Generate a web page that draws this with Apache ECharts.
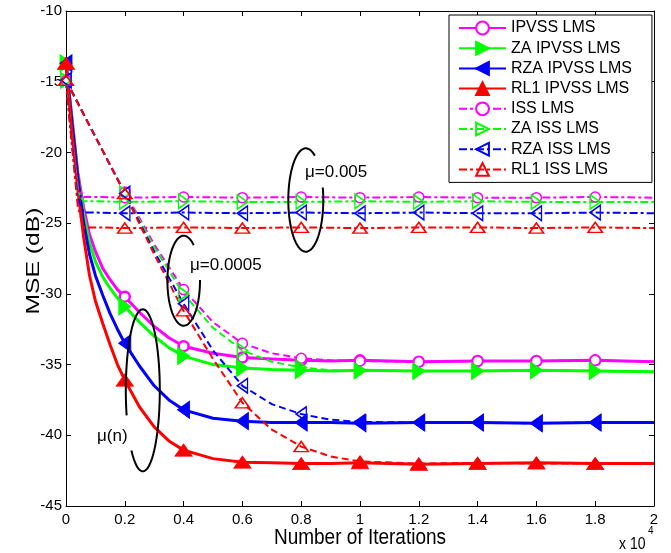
<!DOCTYPE html>
<html><head><meta charset="utf-8">
<script src="https://cdn.jsdelivr.net/npm/echarts@6/dist/echarts.min.js"></script>
<style>html,body{margin:0;padding:0;background:#fff}#c{width:671px;height:553px}</style>
</head><body><div id="c"></div>
<script>
// ---- data (iterations in units of 10^4, MSE in dB) ----
const names = ['IPVSS LMS','ZA IPVSS LMS','RZA IPVSS LMS','RL1 IPVSS LMS','ISS LMS','ZA ISS LMS','RZA ISS LMS','RL1 ISS LMS'];
const xTickLabels = ['0','0.2','0.4','0.6','0.8','1','1.2','1.4','1.6','1.8','2'];

// mu(n) curves (IPVSS)
const xFine = [0,0.02,0.04,0.06,0.08,0.1,0.125,0.15,0.175,0.2,0.25,0.3,0.35,0.4,0.5,0.6,0.7,0.8,0.9,1.0,1.2,1.4,1.6,1.8,2.0];
const ipvss    = [-13.7,-17.5,-21.4,-23.9,-25.8,-27.0,-28.2,-29.0,-29.7,-30.2,-31.3,-32.3,-33.1,-33.7,-34.2,-34.5,-34.6,-34.7,-34.75,-34.7,-34.8,-34.75,-34.75,-34.7,-34.8];
const zaIpvss  = [-13.7,-17.6,-21.6,-24.4,-26.4,-27.7,-28.8,-29.6,-30.3,-30.9,-32.0,-33.0,-33.8,-34.4,-35.0,-35.25,-35.35,-35.4,-35.45,-35.4,-35.45,-35.45,-35.4,-35.45,-35.5];
const rzaIpvss = [-13.7,-17.8,-21.7,-25.0,-27.2,-28.7,-30.1,-31.4,-32.5,-33.5,-35.1,-36.5,-37.5,-38.2,-38.8,-39.0,-39.1,-39.1,-39.1,-39.15,-39.1,-39.1,-39.15,-39.1,-39.1];
const rl1Ipvss = [-13.7,-18.6,-22.6,-26.0,-28.7,-30.5,-32.1,-33.6,-35.0,-36.1,-38.0,-39.4,-40.4,-41.05,-41.65,-41.9,-41.95,-42.0,-42.0,-41.95,-42.05,-42.0,-41.95,-42.0,-42.0];

// mu = 0.005 curves (ISS)
const xFast = [0,0.02,0.04,0.06,0.1,0.2,0.4,0.6,0.8,1.0,1.2,1.4,1.6,1.8,2.0];
const issFast    = [-14.9,-19.1,-22.6,-23.15,-23.15,-23.2,-23.15,-23.2,-23.15,-23.2,-23.15,-23.2,-23.2,-23.15,-23.2];
const zaIssFast  = [-14.9,-19.2,-22.8,-23.45,-23.45,-23.5,-23.45,-23.5,-23.5,-23.45,-23.5,-23.45,-23.5,-23.5,-23.5];
const rzaIssFast = [-14.9,-19.3,-23.2,-24.25,-24.25,-24.3,-24.25,-24.3,-24.25,-24.3,-24.25,-24.3,-24.3,-24.25,-24.3];
const rl1IssFast = [-14.9,-19.5,-23.8,-25.3,-25.3,-25.35,-25.3,-25.35,-25.3,-25.35,-25.3,-25.3,-25.35,-25.3,-25.35];

// mu = 0.0005 curves (ISS)
const xSlow = [0,0.1,0.2,0.3,0.4,0.5,0.6,0.7,0.8,0.9,1.0,1.2,1.4,1.6,1.8,2.0];
const issSlow    = [-14.9,-18.9,-22.8,-26.5,-29.7,-32.0,-33.5,-34.2,-34.55,-34.7,-34.75,-34.8,-34.75,-34.75,-34.7,-34.8];
const zaIssSlow  = [-14.9,-18.9,-22.9,-26.7,-30.0,-32.4,-34.0,-34.8,-35.2,-35.4,-35.45,-35.45,-35.45,-35.4,-35.45,-35.5];
const rzaIssSlow = [-14.9,-18.9,-22.9,-27.0,-30.7,-34.0,-36.5,-37.8,-38.5,-38.9,-39.05,-39.1,-39.1,-39.15,-39.1,-39.1];
const rl1IssSlow = [-14.9,-18.9,-22.9,-27.2,-31.2,-34.6,-37.7,-39.6,-40.8,-41.5,-41.85,-42.0,-41.95,-42.0,-42.0,-42.0];

// ---- styling ----
const FONT = "'Liberation Sans', Arial, Helvetica, sans-serif";
const MAG = '#ff00ff', GRN = '#00ff00', BLU = '#0000ff', RED = '#ff0000';
const RIGHT = 'path://M0,0L10,7L0,14Z';
const LEFT = 'path://M10,0L0,7L10,14Z';
const markerOf = {
  circle: {symbol: 'circle', size: 10},
  right: {symbol: RIGHT, size: [12, 17]},
  left: {symbol: LEFT, size: [12, 17]},
  up: {symbol: 'triangle', size: [17, 12]}
};
function isMarkX(x) { return Math.abs(x * 5 - Math.round(x * 5)) < 1e-6 && x < 1.9; }

function makeSeries(name, xs, ys, color, shape, kind) {
  const m = markerOf[shape];
  const solid = kind === 'solid';
  const data = xs.map((x, i) => isMarkX(x) ? [x, ys[i]] : {value: [x, ys[i]], symbol: 'none'});
  let lineStyle;
  if (solid) lineStyle = {color: color, width: 3, type: 'solid'};
  else if (kind === 'fast') lineStyle = {color: color, width: 2, type: [8, 3, 3, 3]};
  else lineStyle = {color: color, width: 2, type: [7, 4]};
  let itemStyle;
  if (shape === 'circle') itemStyle = {color: '#fff', borderColor: color, borderWidth: solid ? 2.5 : 1.5};
  else if (solid) itemStyle = {color: color, borderColor: color, borderWidth: 1};
  else itemStyle = {color: 'rgba(255,255,255,0)', borderColor: color, borderWidth: 1.5};
  let size = m.size;
  if (!solid && Array.isArray(size)) size = size.map(v => v * 0.85);
  if (!solid && !Array.isArray(size)) size = 10;
  return {
    type: 'line', name: name, data: data,
    symbol: m.symbol, symbolSize: size, showSymbol: true, showAllSymbol: true,
    lineStyle: lineStyle, itemStyle: itemStyle,
    silent: true, animation: false, emphasis: {disabled: true}
  };
}

const series = [
  makeSeries(names[0], xFine, ipvss, MAG, 'circle', 'solid'),
  makeSeries(names[1], xFine, zaIpvss, GRN, 'right', 'solid'),
  makeSeries(names[2], xFine, rzaIpvss, BLU, 'left', 'solid'),
  makeSeries(names[3], xFine, rl1Ipvss, RED, 'up', 'solid'),
  makeSeries(names[4], xFast, issFast, MAG, 'circle', 'fast'),
  makeSeries(names[5], xFast, zaIssFast, GRN, 'right', 'fast'),
  makeSeries(names[6], xFast, rzaIssFast, BLU, 'left', 'fast'),
  makeSeries(names[7], xFast, rl1IssFast, RED, 'up', 'fast'),
  makeSeries(names[4], xSlow, issSlow, MAG, 'circle', 'slow'),
  makeSeries(names[5], xSlow, zaIssSlow, GRN, 'right', 'slow'),
  makeSeries(names[6], xSlow, rzaIssSlow, BLU, 'left', 'slow'),
  makeSeries(names[7], xSlow, rl1IssSlow, RED, 'up', 'slow')
];

// ---- annotation shapes (pixel space) ----
function ellipsePts(cx, cy, rx, ry, a0, a1) {
  const pts = [];
  for (let a = a0; a <= a1 + 1e-9; a += 3) {
    const t = a * Math.PI / 180;
    pts.push([cx + rx * Math.cos(t), cy + ry * Math.sin(t)]);
  }
  return pts;
}
function ell(cx, cy, rx, ry, a0, a1) {
  return {type: 'polyline', z: 100, silent: true,
    shape: {points: ellipsePts(cx, cy, rx, ry, a0, a1)},
    style: {stroke: '#000', lineWidth: 2, fill: null}};
}
function txt(x, y, s, size, align, extra) {
  return Object.assign({type: 'text', x: x, y: y, z: 100, silent: true,
    style: {text: s, fill: '#000', font: size + 'px ' + FONT, textAlign: align || 'left', textVerticalAlign: 'middle'}}, extra || {});
}

const axisCommon = {
  type: 'value', silent: true,
  axisLine: {show: true, onZero: false, lineStyle: {color: '#000', width: 1}},
  axisTick: {show: true, inside: true, length: 5, lineStyle: {color: '#000', width: 1}},
  splitLine: {show: false}
};

const chart = echarts.init(document.getElementById('c'), null, {renderer: 'canvas'});
chart.setOption({
  animation: false,
  backgroundColor: '#fff',
  grid: {left: 66, right: 17, top: 11, bottom: 47, outerBoundsMode: 'none', containLabel: false},
  xAxis: [
    Object.assign({}, axisCommon, {min: 0, max: 2, interval: 0.2, position: 'bottom',
      axisLabel: {color: '#000', fontSize: 15, fontFamily: FONT, margin: 6,
        formatter: (v) => xTickLabels[Math.round(v * 5)]}}),
    Object.assign({}, axisCommon, {min: 0, max: 2, interval: 0.2, position: 'top', axisLabel: {show: false}})
  ],
  yAxis: [
    Object.assign({}, axisCommon, {min: -45, max: -10, interval: 5, position: 'left',
      axisLabel: {color: '#000', fontSize: 15, fontFamily: FONT, margin: 4}}),
    Object.assign({}, axisCommon, {min: -45, max: -10, interval: 5, position: 'right', axisLabel: {show: false}})
  ],
  legend: {
    orient: 'vertical', left: 449, top: 15,
    padding: [5, 20, 5, 9], itemGap: 4.2, itemWidth: 47, itemHeight: 16,
    borderColor: '#000', borderWidth: 1, backgroundColor: '#fff',
    textStyle: {fontSize: 16, fontFamily: FONT, color: '#000'},
    data: names, selectedMode: false
  },
  series: series,
  graphic: [
    ell(305.8, 200, 17.5, 51.7, -14, 302),
    ell(183.7, 280.7, 16.3, 45, -1, 309),
    ell(142.8, 390.3, 17, 81, 162, 492),
    txt(305, 172, '\u03bc=0.005', 17),
    txt(190, 265, '\u03bc=0.0005', 17),
    txt(97, 436, '\u03bc(n)', 17),
    txt(360, 538, 'Number of Iterations', 19, 'center', {scaleY: 1.2}),
    txt(34, 261, 'MSE (dB)', 19, 'center', {rotation: Math.PI / 2, scaleX: 1.3}),
    txt(619, 545, 'x 10', 14, 'left', {scaleY: 1.15}),
    txt(648, 531, '4', 10)
  ]
});
</script></body></html>
